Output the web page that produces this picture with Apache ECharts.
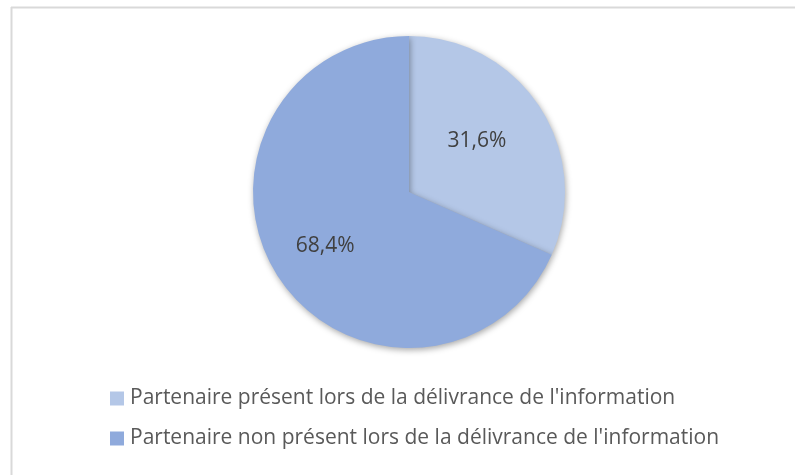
<!DOCTYPE html>
<html><head><meta charset="utf-8">
<script src="https://cdn.jsdelivr.net/npm/echarts@6/dist/echarts.min.js"></script>
<style>html,body{margin:0;padding:0;background:#fff}#c{width:795px;height:475px}</style>
</head><body><div id="c"></div>
<script>
const categories = ["Partenaire présent lors de la délivrance de l'information", "Partenaire non présent lors de la délivrance de l'information"];
const values = [31.6, 68.4];
const colors = ['#b4c7e7', '#8faadc'];

const chart = echarts.init(document.getElementById('c'), null, {renderer: 'canvas'});
chart.setOption({
  backgroundColor: '#fff',
  animation: false,
  graphic: [
    {type: 'line', shape: {x1: 11, y1: 7.5, x2: 795, y2: 7.5}, style: {stroke: '#d9d9d9', lineWidth: 2}},
    {type: 'line', shape: {x1: 11.5, y1: 7, x2: 11.5, y2: 475}, style: {stroke: '#d9d9d9', lineWidth: 2}}
  ],
  legend: {
    orient: 'vertical',
    left: 110,
    top: 388,
    padding: 0,
    itemWidth: 14,
    itemHeight: 14,
    itemGap: 19,
    icon: 'rect',
    textStyle: {fontFamily: 'Open Sans', fontSize: 21, lineHeight: 21, color: '#595959', padding: [0, 0, 0, 1]},
    data: categories
  },
  series: [{
    type: 'pie',
    center: [409, 192],
    radius: 156,
    startAngle: 90,
    clockwise: true,
    silent: true,
    label: {
      position: 'inside',
      formatter: p => p.value.toFixed(1).replace('.', ',') + '%',
      fontFamily: 'Open Sans',
      fontSize: 21,
      color: '#404040'
    },
    labelLayout: p => p.dataIndex === 0 ? {dx: 0, dy: -7} : {dx: -16, dy: 10},
    labelLine: {show: false},
    itemStyle: {shadowBlur: 6, shadowColor: 'rgba(0,0,0,0.35)', shadowOffsetX: 1, shadowOffsetY: 2},
    data: categories.map((n, i) => ({name: n, value: values[i], itemStyle: {color: colors[i]}}))
  }]
});
</script></body></html>
